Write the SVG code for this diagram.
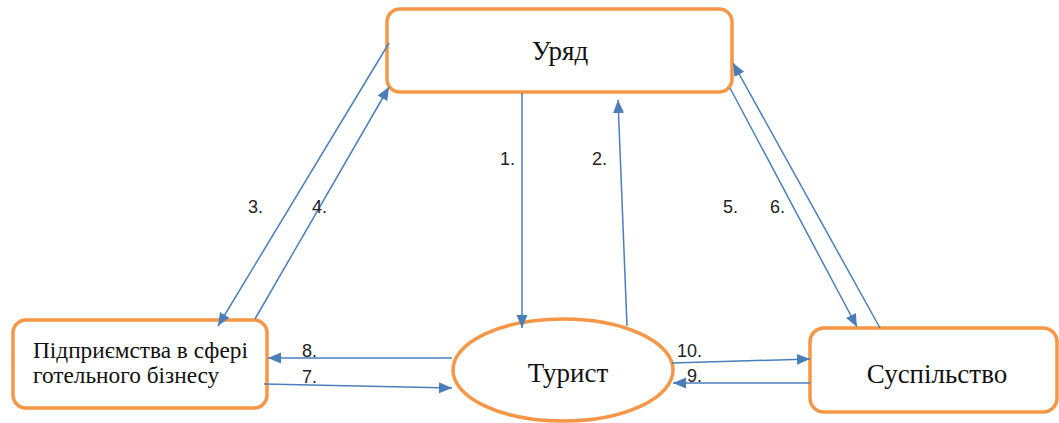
<svg xmlns="http://www.w3.org/2000/svg" width="1059" height="423" viewBox="0 0 1059 423">
  <style>
    .node { fill: #ffffff; stroke: #F79646; stroke-width: 3.5; }
    .title { font-family: "Liberation Serif", "Times New Roman", serif; font-size: 27px; fill: #111111; }
    .small { font-family: "Liberation Serif", "Times New Roman", serif; font-size: 23.3px; fill: #111111; }
    .num { font-family: "Liberation Sans", Arial, sans-serif; font-size: 18px; fill: #222222; }
    .conn { stroke: #4A7EBB; stroke-width: 1.5; fill: none; marker-end: url(#arrow); }
  </style>
  <defs>
    <marker id="arrow" markerUnits="userSpaceOnUse" markerWidth="14" markerHeight="12" refX="13" refY="5.5" orient="auto">
      <path d="M0,0 L13,5.5 L0,11 z" fill="#4A7EBB"/>
    </marker>
  </defs>
  <rect width="1059" height="423" fill="#ffffff"/>

  <g id="uryad">
    <rect class="node" x="387" y="9" width="345" height="83" rx="13"/>
    <text class="title" x="560" y="60" text-anchor="middle">Уряд</text>
  </g>
  <g id="pidpryiemstva">
    <rect class="node" x="13" y="320" width="254" height="88" rx="13"/>
    <text class="small" x="33" y="358">Підприємства в сфері</text>
    <text class="small" x="33" y="383">готельного бізнесу</text>
  </g>
  <g id="turyst">
    <ellipse class="node" cx="563" cy="370" rx="110" ry="51"/>
    <text class="title" x="568" y="382" text-anchor="middle">Турист</text>
  </g>
  <g id="suspilstvo">
    <rect class="node" x="810" y="328" width="247" height="84" rx="14"/>
    <text class="title" x="937" y="383" text-anchor="middle">Суспільство</text>
  </g>

  <g id="connectors">
    <line class="conn" x1="522" y1="93" x2="522" y2="328"/>
    <line class="conn" x1="627" y1="326" x2="618" y2="100"/>
    <line class="conn" x1="389" y1="43" x2="218" y2="326"/>
    <line class="conn" x1="255" y1="319" x2="389" y2="87"/>
    <line class="conn" x1="730" y1="88" x2="857" y2="327"/>
    <line class="conn" x1="880" y1="328" x2="733" y2="63"/>
    <line class="conn" x1="264" y1="384" x2="452" y2="388"/>
    <line class="conn" x1="452" y1="358" x2="268" y2="358"/>
    <line class="conn" x1="672" y1="363" x2="810" y2="359"/>
    <line class="conn" x1="810" y1="383" x2="673" y2="383"/>
  </g>

  <g id="labels">
    <text class="num" x="500" y="165">1.</text>
    <text class="num" x="592" y="165">2.</text>
    <text class="num" x="248" y="213">3.</text>
    <text class="num" x="312" y="213">4.</text>
    <text class="num" x="723" y="213">5.</text>
    <text class="num" x="770" y="213">6.</text>
    <text class="num" x="302" y="383">7.</text>
    <text class="num" x="302" y="357">8.</text>
    <text class="num" x="687" y="382">9.</text>
    <text class="num" x="677" y="357">10.</text>
  </g>
</svg>
